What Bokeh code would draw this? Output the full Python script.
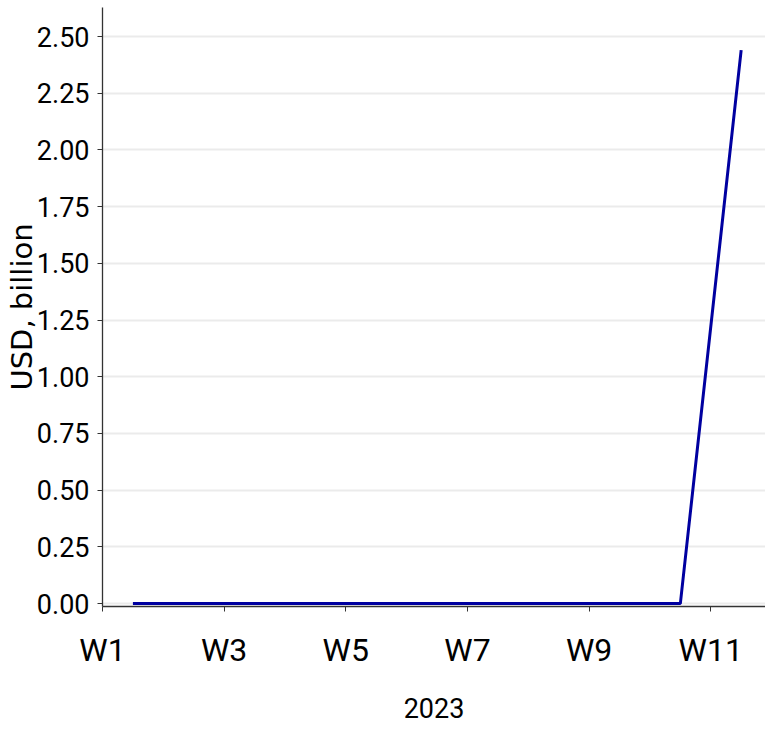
from bokeh.plotting import figure
from bokeh.models import ColumnDataSource, FixedTicker, Range1d
from bokeh.transform import dodge
from bokeh.embed import file_html
from bokeh.resources import INLINE

weeks = [1, 2, 3, 4, 5, 6, 7, 8, 9, 10, 11]
usd_billion = [0.0, 0.0, 0.0, 0.0, 0.0, 0.0, 0.0, 0.0, 0.0, 0.0, 2.44]
x_ticks = [1, 3, 5, 7, 9, 11]
x_tick_labels = ["W1", "W3", "W5", "W7", "W9", "W11"]
y_ticks = [0.0, 0.25, 0.5, 0.75, 1.0, 1.25, 1.5, 1.75, 2.0, 2.25, 2.5]
y_tick_labels = ["0.00", "0.25", "0.50", "0.75", "1.00", "1.25", "1.50", "1.75", "2.00", "2.25", "2.50"]
x_title = "2023"
y_title = "USD, billion"

TICK_FONT = "Roboto"

src = ColumnDataSource(dict(week=weeks, value=usd_billion))

p = figure(width=765, height=731, output_backend="svg", toolbar_location=None,
           x_range=Range1d(1, 11.9), y_range=Range1d(-0.013, 2.628),
           min_border_left=102, min_border_right=0, min_border_top=7, min_border_bottom=125)
p.outline_line_color = None
p.background_fill_color = "white"

p.line(x=dodge("week", 0.5), y="value", source=src, line_color="#0000a0", line_width=3)

p.xgrid.grid_line_color = None
p.ygrid.grid_line_color = "#ebebeb"
p.ygrid.grid_line_width = 2

p.xaxis.ticker = FixedTicker(ticks=x_ticks)
p.xaxis.major_label_overrides = {t: l for t, l in zip(x_ticks, x_tick_labels)}
p.yaxis.ticker = FixedTicker(ticks=y_ticks)
p.yaxis.major_label_overrides = {t: l for t, l in zip(y_ticks, y_tick_labels)}

for ax in (p.xaxis, p.yaxis):
    ax.axis_line_color = "#333333"
    ax.axis_line_width = 1.3
    ax.major_tick_line_color = "#333333"
    ax.major_tick_out = 5
    ax.major_tick_in = 0
    ax.minor_tick_line_color = None
    ax.major_label_text_font = TICK_FONT
    ax.major_label_text_color = "black"

p.yaxis.major_label_text_font_size = "27px"
p.xaxis.major_label_text_font_size = "32px"
p.yaxis.major_label_standoff = 8
p.xaxis.major_label_standoff = 19

p.xaxis.axis_label = x_title
p.xaxis.axis_label_text_font = TICK_FONT
p.xaxis.axis_label_text_font_size = "27px"
p.xaxis.axis_label_text_font_style = "normal"
p.xaxis.axis_label_text_color = "black"
p.xaxis.axis_label_standoff = 26

p.yaxis.axis_label = y_title
p.yaxis.axis_label_text_font = "DejaVu Sans"
p.yaxis.axis_label_text_font_size = "29px"
p.yaxis.axis_label_text_font_style = "normal"
p.yaxis.axis_label_text_color = "black"
p.yaxis.axis_label_standoff = -5

open("out.html", "w").write(file_html(p, INLINE))
